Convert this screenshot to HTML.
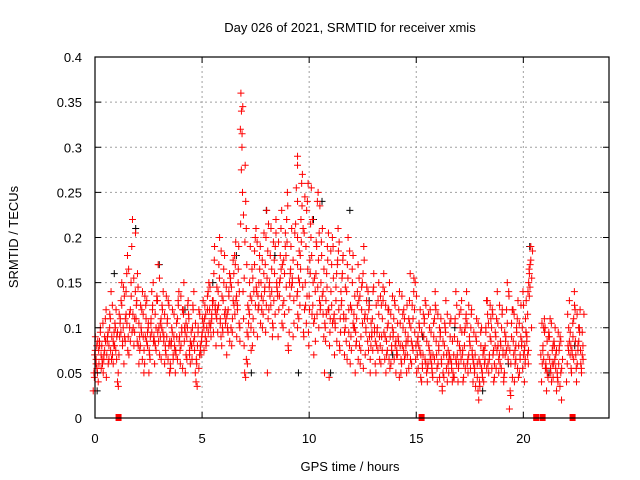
<!DOCTYPE html>
<html><head><meta charset="utf-8"><style>
html,body{margin:0;padding:0;background:#fff;}
svg{display:block;font-family:"Liberation Sans",sans-serif;}
</style></head><body>
<svg id="chart" width="640" height="480" viewBox="0 0 640 480">
<rect width="640" height="480" fill="#fff"/>
<text x="350" y="32" text-anchor="middle" font-size="13" fill="#000">Day 026 of 2021, SRMTID for receiver xmis</text>
<text x="350" y="471" text-anchor="middle" font-size="13" fill="#000">GPS time / hours</text>
<text transform="translate(18,237) rotate(-90)" text-anchor="middle" font-size="13" fill="#000">SRMTID / TECUs</text>
<g id="grid"></g><g id="marks"></g><g id="axes"></g>
</svg>
<script>
const xTicks=[0,5,10,15,20];
const yTicks=[0,0.05,0.1,0.15,0.2,0.25,0.3,0.35,0.4];
const yTickLabels=["0","0.05","0.1","0.15","0.2","0.25","0.3","0.35","0.4"];
const redTimes=[0,0.2,0.4,0.6,0.8,1.0,1.2,1.4,1.6,1.8,2.0,2.2,2.4,2.6,2.8,3.0,3.2,3.4,3.6,3.8,4.0,4.2,4.4,4.6,4.8,5.0,5.2,5.4,5.6,5.8,6.0,6.2,6.4,6.6,6.8,7.0,7.2,7.4,7.6,7.8,8.0,8.2,8.4,8.6,8.8,9.0,9.2,9.4,9.6,9.8,10.0,10.2,10.4,10.6,10.8,11.0,11.2,11.4,11.6,11.8,12.0,12.2,12.4,12.6,12.8,13.0,13.2,13.4,13.6,13.8,14.0,14.2,14.4,14.6,14.8,15.0,15.2,15.4,15.6,15.8,16.0,16.2,16.4,16.6,16.8,17.0,17.2,17.4,17.6,17.8,18.0,18.2,18.4,18.6,18.8,19.0,19.2,19.4,19.6,19.8,20.0,20.15,20.3,20.9,21.1,21.3,21.5,21.7,22.1,22.3,22.5,22.7];
const redValues=[
[.03,.05,.07,.09,.06,.08],[.04,.06,.08,.10,.07,.05],[.05,.07,.09,.11,.08,.06],[.06,.08,.10,.12,.07,.09],[.06,.08,.11,.14,.09,.07],
[.05,.08,.10,.12,.09,.04],[.07,.09,.11,.13,.15,.08],[.06,.09,.11,.14,.16,.10],[.07,.10,.12,.15,.18,.09],[.08,.11,.14,.19,.22,.10],
[.06,.09,.11,.13,.16,.08],[.05,.08,.10,.12,.14,.09],[.06,.09,.11,.13,.08,.10],[.07,.09,.11,.14,.12,.05],[.06,.08,.10,.13,.15,.09],
[.07,.09,.11,.13,.17,.10],[.06,.08,.10,.12,.14,.09],[.05,.07,.09,.11,.13,.08],[.06,.08,.10,.12,.07,.09],[.05,.07,.09,.11,.13,.08],
[.06,.08,.10,.12,.14,.09],[.05,.07,.09,.12,.15,.10],[.06,.08,.10,.13,.11,.07],[.05,.08,.10,.12,.14,.09],[.04,.06,.08,.10,.12,.07],
[.07,.09,.11,.13,.10,.08],[.08,.10,.12,.14,.11,.09],[.09,.11,.13,.15,.12,.10],[.08,.11,.13,.16,.19,.12],[.09,.12,.14,.17,.20,.11],
[.08,.10,.13,.15,.18,.12],[.07,.10,.12,.14,.16,.11],[.08,.11,.13,.16,.15,.10],[.09,.12,.15,.18,.17,.13],[.10,.14,.19,.25,.30,.34,.36,.32],
[.05,.08,.11,.14,.17,.21,.24,.28],[.06,.09,.12,.15,.19,.10],[.08,.11,.14,.17,.20,.13],[.09,.12,.15,.18,.21,.14],[.10,.13,.16,.19,.15,.12],
[.05,.11,.14,.17,.20,.23],[.09,.12,.15,.18,.21,.14],[.10,.13,.16,.19,.22,.15],[.09,.12,.15,.18,.21,.14],[.10,.13,.16,.19,.23,.17],
[.08,.12,.15,.18,.22,.25],[.09,.13,.16,.19,.21,.15],[.10,.14,.17,.20,.24,.28,.29],[.11,.15,.18,.22,.26,.27],[.09,.12,.15,.19,.23,.21],
[.08,.12,.16,.20,.24,.26],[.07,.11,.14,.18,.22,.15],[.10,.13,.16,.19,.24,.25],[.09,.12,.15,.18,.21,.14],[.05,.10,.13,.16,.19,.12],
[.08,.11,.14,.17,.20,.12],[.07,.10,.13,.16,.19,.11],[.08,.11,.14,.17,.21,.12],[.07,.10,.13,.16,.18,.11],[.08,.11,.14,.17,.20,.12],
[.06,.09,.12,.15,.18,.10],[.05,.08,.11,.14,.17,.10],[.06,.09,.12,.15,.13,.08],[.07,.10,.13,.16,.19,.11],[.05,.08,.11,.14,.12,.09],
[.06,.09,.11,.14,.16,.10],[.05,.08,.10,.13,.15,.09],[.06,.09,.11,.13,.16,.08],[.05,.07,.10,.12,.14,.09],[.06,.08,.10,.12,.15,.09],
[.05,.07,.09,.11,.13,.08],[.05,.07,.09,.12,.14,.08],[.06,.08,.10,.12,.11,.07],[.05,.07,.09,.11,.13,.08],[.06,.08,.11,.14,.16,.10],
[.05,.07,.09,.12,.15,.08],[.04,.06,.08,.10,.12,.07],[.05,.07,.09,.11,.13,.06],[.04,.06,.08,.10,.12,.07],[.05,.07,.09,.11,.14,.06],
[.04,.06,.08,.10,.12,.07],[.03,.05,.07,.09,.11,.06],[.04,.06,.08,.10,.13,.07],[.04,.05,.07,.09,.11,.06],[.05,.07,.09,.11,.14,.06],
[.04,.06,.08,.10,.12,.07],[.04,.06,.08,.10,.13,.07],[.05,.07,.09,.11,.14,.06],[.04,.06,.08,.10,.12,.07],[.03,.05,.07,.09,.11,.06],
[.02,.04,.06,.08,.10,.05],[.04,.06,.08,.10,.13,.07],[.05,.07,.09,.11,.13,.06],[.04,.06,.08,.10,.12,.07],[.05,.07,.09,.11,.14,.08],
[.04,.06,.08,.10,.12,.07],[.05,.07,.09,.12,.15,.08],[.01,.03,.06,.09,.12,.14],[.04,.06,.08,.10,.12,.07],[.05,.07,.09,.11,.13,.08],
[.04,.06,.08,.10,.14,.07],[.06,.08,.11,.13,.09,.07],[.14,.15,.16,.17,.19,.10],
[.04,.06,.08,.10,.11,.07],[.03,.05,.07,.09,.10,.06],[.04,.06,.08,.09,.11,.05],[.03,.05,.06,.08,.10,.07],[.02,.04,.06,.08,.09,.05],
[.04,.06,.08,.10,.13,.07],[.05,.07,.09,.11,.14,.08],[.04,.06,.08,.10,.12,.07],[.05,.07,.08,.10,.12,.06]];
const redValues2=[
[.045,.065,.085,.075,.055],[.055,.075,.095,.065,.085],[.065,.085,.105,.075,.045],[.075,.095,.115,.085,.065],[.085,.105,.125,.095,.065],
[.075,.095,.115,.065,.035],[.085,.105,.125,.145,.095],[.085,.105,.135,.115,.075],[.095,.115,.135,.165,.085],[.095,.125,.155,.205,.115],
[.085,.105,.125,.145,.075],[.075,.095,.115,.135,.065],[.085,.105,.125,.095,.075],[.085,.105,.125,.065,.095],[.075,.095,.115,.135,.085],
[.085,.105,.125,.155,.065],[.075,.095,.115,.135,.085],[.065,.085,.105,.125,.055],[.075,.095,.115,.085,.065],[.065,.085,.105,.125,.075],
[.075,.095,.115,.135,.055],[.065,.085,.105,.125,.095],[.075,.095,.115,.085,.065],[.065,.085,.105,.125,.075],[.055,.075,.095,.115,.035],
[.085,.105,.125,.095,.075],[.095,.115,.135,.105,.085],[.105,.125,.145,.115,.095],[.095,.125,.145,.175,.115],[.105,.135,.155,.185,.125],
[.095,.115,.145,.165,.105],[.085,.115,.135,.155,.095],[.095,.125,.145,.175,.115],[.105,.135,.165,.195,.125],[.085,.215,.275,.315,.345,.225],
[.065,.095,.125,.155,.195,.045],[.075,.105,.135,.165,.115],[.095,.125,.155,.185,.145],[.105,.135,.165,.195,.125],[.115,.145,.175,.205,.135],
[.095,.125,.155,.185,.215,.145],[.105,.135,.165,.195,.125],[.115,.145,.175,.205,.135],[.105,.135,.165,.195,.155],[.115,.145,.175,.205,.125],
[.095,.135,.165,.195,.235,.075],[.105,.145,.175,.205,.155],[.115,.155,.185,.215,.255,.135],[.125,.165,.195,.235,.145,.095],[.105,.135,.165,.205,.245,.125],
[.095,.135,.175,.215,.255,.115],[.085,.125,.155,.195,.105],[.115,.145,.175,.205,.235,.125],[.105,.135,.165,.195,.115],[.085,.115,.145,.175,.205,.045],
[.095,.125,.155,.185,.105],[.085,.115,.145,.175,.105],[.095,.125,.155,.185,.195,.075],[.085,.115,.145,.175,.095],[.095,.125,.155,.185,.065],
[.075,.105,.135,.165,.115],[.065,.095,.125,.155,.085],[.075,.105,.135,.145,.055],[.085,.115,.145,.175,.095],[.065,.095,.125,.105,.075],
[.075,.095,.125,.145,.085],[.065,.095,.115,.135,.075],[.075,.095,.125,.145,.065],[.065,.085,.105,.125,.075],[.075,.095,.115,.135,.055],
[.065,.085,.105,.125,.075],[.065,.085,.105,.135,.045],[.075,.095,.115,.065,.085],[.065,.085,.105,.125,.055],[.075,.095,.125,.155,.085],
[.065,.085,.105,.135,.055],[.055,.075,.095,.115,.045],[.065,.085,.105,.125,.055],[.055,.075,.095,.115,.065],[.065,.085,.105,.125,.045],
[.055,.075,.095,.115,.045],[.045,.065,.085,.105,.035],[.055,.075,.095,.115,.065],[.045,.065,.085,.105,.055],[.065,.085,.105,.125,.045],
[.055,.075,.095,.115,.065],[.055,.075,.095,.115,.045],[.065,.085,.105,.125,.055],[.055,.075,.095,.115,.065],[.045,.065,.085,.105,.035],
[.035,.055,.075,.095,.045],[.055,.075,.095,.115,.065],[.065,.085,.105,.125,.055],[.055,.075,.095,.115,.045],[.065,.085,.105,.125,.075],
[.055,.075,.095,.115,.045],[.065,.085,.105,.135,.075],[.025,.045,.075,.105,.085],[.055,.075,.095,.115,.065],[.065,.085,.105,.125,.045],
[.055,.075,.095,.125,.065],[.075,.095,.115,.135,.085],[.145,.155,.165,.175,.185],
[.055,.075,.095,.105,.065],[.045,.065,.085,.095,.055],[.055,.075,.085,.105,.045],[.045,.065,.075,.095,.055],[.035,.055,.075,.085,.065],
[.055,.075,.095,.115,.085],[.065,.085,.105,.125,.075],[.055,.075,.095,.115,.085],[.065,.075,.095,.115,.055]];
const blackTimes=[0.1,0.9,1.9,3.0,4.2,5.5,6.6,7.3,8.0,8.4,9.5,10.2,10.6,11.0,11.9,12.8,13.9,15.3,16.8,18.1,19.3,20.3,21.2,22.4];
const blackValues=[.03,.16,.21,.17,.12,.15,.18,.05,.23,.18,.05,.22,.24,.05,.23,.13,.07,.09,.10,.03,.06,.19,.05,.08];
const zeroTimes=[1.1,15.25,20.6,20.9,22.3];

const X0=95,X1=609,Y0=418,Y1=57,XMAX=24,YMAX=0.4;
const sx=t=>X0+(t/XMAX)*(X1-X0);
const sy=v=>Y0-(v/YMAX)*(Y0-Y1);
const NS="http://www.w3.org/2000/svg";
function mk(tag,attrs,parent){const e=document.createElementNS(NS,tag);for(const k in attrs)e.setAttribute(k,attrs[k]);parent.appendChild(e);return e;}
const grid=document.getElementById('grid'),marks=document.getElementById('marks'),axes=document.getElementById('axes');

yTicks.forEach((v,i)=>{
  const y=sy(v);
  if(i>0&&i<yTicks.length-1){const g=mk('line',{x1:X0,x2:X1,y1:y,y2:y,stroke:'#a0a0a0','stroke-dasharray':'2,3'},grid);
  
  }
  const t=mk('text',{x:82,y:y+5,'text-anchor':'end','font-size':'13',fill:'#000'},axes);t.textContent=yTickLabels[i];
  
  
  mk('line',{x1:X0,x2:X0+6,y1:y,y2:y,stroke:'#000'},axes);
  mk('line',{x1:X1,x2:X1-6,y1:y,y2:y,stroke:'#000'},axes);
});
xTicks.forEach(t=>{
  const x=sx(t);
  if(t>0){const g=mk('line',{x1:x,x2:x,y1:Y0,y2:Y1,stroke:'#a0a0a0','stroke-dasharray':'2,3'},grid);
  
  }
  const l=mk('text',{x:x,y:443,'text-anchor':'middle','font-size':'13',fill:'#000'},axes);l.textContent=String(t);
  
  
  mk('line',{x1:x,x2:x,y1:Y0,y2:Y0-6,stroke:'#000'},axes);
  mk('line',{x1:x,x2:x,y1:Y1,y2:Y1+6,stroke:'#000'},axes);
});
const fr=mk('rect',{x:X0,y:Y1,width:X1-X0,height:Y0-Y1,fill:'none',stroke:'#000','stroke-width':'1.2'},axes);



function plus(x,y,color,name){
  const p=mk('path',{d:`M${x-3.5},${y}h7M${x},${y-3.5}v7`,stroke:color,'stroke-width':'1',fill:'none'},marks);
  
  
}
blackTimes.forEach((t,i)=>plus(sx(t),sy(blackValues[i]),'#000','black-point'));
function drawRows(values,shift){
  redTimes.forEach((t,i)=>{
    const vals=values[i]||[];
    const n=vals.length;
    vals.forEach((v,j)=>{
      const slot=(j*7+i*shift)%n;
      const dt=(slot+0.5)/n*0.2-0.1+(shift===3?0.05:0);
      plus(sx(t+dt),sy(v),'#ff0000','red-point');
    });
  });
}
drawRows(redValues,1);
drawRows(redValues2,3);
zeroTimes.forEach(t=>{
  const r=mk('rect',{x:sx(t)-3,y:Y0-4,width:6,height:7,fill:'#ff0000'},marks);
  
  
});
</script>
</body></html>
